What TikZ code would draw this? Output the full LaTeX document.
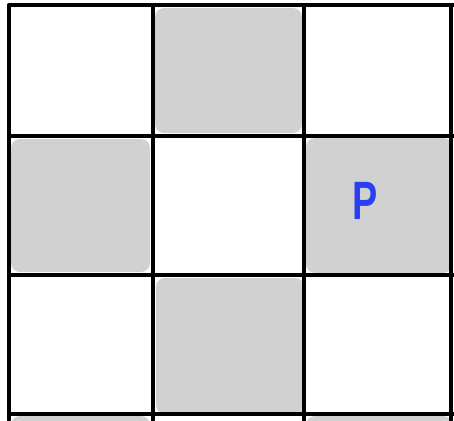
\documentclass[tikz,border=0pt]{standalone}
\usepackage{fontspec}
\setsansfont{Liberation Sans}
\usepackage{xcolor}
\definecolor{cellgray}{HTML}{D1D1D1}
\definecolor{pblue}{HTML}{2B3FF2}

\begin{document}
\begin{tikzpicture}[
    x=1pt, y=-1pt,
    gridline/.style={line width=3.6pt, black, line cap=round},
    shade/.style={fill=cellgray, rounded corners=9pt}
]
\useasboundingbox (0,0) rectangle (454,420);
\clip (0,0) rectangle (454,420);

% Gray cells
\fill[shade] (155,8)   rectangle (302,133);
\fill[shade] (11,139)  rectangle (150,272);
\fill[shade] (306,138) rectangle (452,273);
\fill[shade] (156,278) rectangle (304,414);
% cells cut off at the edges
\fill[shade] (11,416)  rectangle (150,450);
\fill[shade] (306,416) rectangle (452,450);
\fill[shade] (454,8)   rectangle (480,133);

% Grid
\foreach \gx in {9,153,304,451}
    \draw[gridline] (\gx,5) -- (\gx,420);
\foreach \gy in {5,136,275,414}
    \draw[gridline] (9,\gy) -- (454,\gy);

% Label
\node[text=pblue, font=\sffamily\bfseries\fontsize{54}{54}\selectfont,
      xscale=0.7] (p) at (365,201) {P};
\end{tikzpicture}
\end{document}
